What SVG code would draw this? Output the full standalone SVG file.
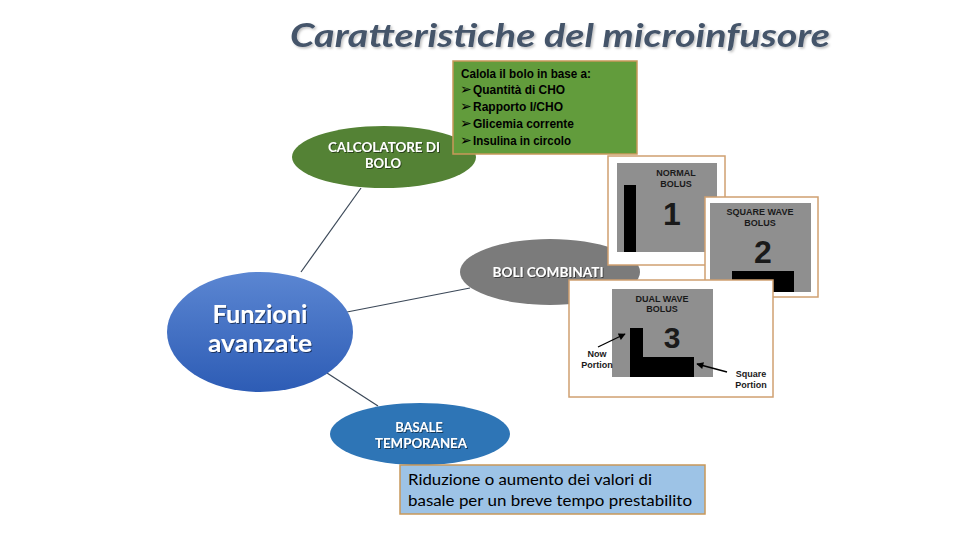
<svg xmlns="http://www.w3.org/2000/svg" width="960" height="540" viewBox="0 0 960 540">
<defs>
<linearGradient id="gBlue" x1="0" y1="0" x2="0" y2="1">
<stop offset="0" stop-color="#5b86d2"/>
<stop offset="1" stop-color="#2d5cb5"/>
</linearGradient>
<filter id="tsh" x="-10%" y="-30%" width="120%" height="160%">
<feDropShadow dx="1.5" dy="1.5" stdDeviation="0.8" flood-color="#000" flood-opacity="0.25"/>
</filter>
<filter id="wsh" x="-10%" y="-30%" width="120%" height="160%">
<feDropShadow dx="1" dy="1" stdDeviation="0.6" flood-color="#000" flood-opacity="0.5"/>
</filter>
<marker id="arr" viewBox="0 0 10 10" refX="9" refY="5" markerWidth="8" markerHeight="7" orient="auto" markerUnits="userSpaceOnUse">
<path d="M0,0 L10,5 L0,10 z" fill="#000"/>
</marker>
</defs>
<style>
.title{font-family:Lato,"Open Sans",sans-serif;font-weight:bold;font-style:italic;font-size:32px;fill:#44546a;filter:url(#tsh)}
.wt{font-family:Lato,"Open Sans",sans-serif;font-weight:bold;fill:#fff;text-anchor:middle;filter:url(#wsh)}
.gtx{font-family:"Liberation Sans",Arial,sans-serif;font-weight:bold;font-size:13px;fill:#000}
.bul{font-family:"DejaVu Sans",sans-serif;font-size:14px}
.btx{font-family:Lato,"Open Sans",sans-serif;font-size:15px;fill:#000}
.ar{font-family:"Liberation Sans",Arial,sans-serif;font-weight:bold;fill:#1a1a1a;text-anchor:middle}
.frame{fill:#fff;stroke:#d0a070;stroke-width:1.5}
.gray{fill:#8f8f8f}
.conn{stroke:#3b4858;stroke-width:1.2;fill:none}
</style>

<g id="title">
<text class="title" x="290" y="47" textLength="540" lengthAdjust="spacingAndGlyphs">Caratteristiche del microinfusore</text>
</g>

<g id="connectors">
<line class="conn" x1="361" y1="188" x2="301" y2="272"/>
<line class="conn" x1="347" y1="312" x2="470" y2="288"/>
<line class="conn" x1="327" y1="373" x2="378" y2="406"/>
</g>

<g id="calcolatore">
<ellipse cx="384" cy="157" rx="92" ry="31" fill="#548235"/>
<text class="wt" font-size="13" x="384" y="152" textLength="112" lengthAdjust="spacingAndGlyphs">CALCOLATORE DI</text>
<text class="wt" font-size="13" x="383" y="168">BOLO</text>
</g>

<g id="calcolo-box">
<rect x="453" y="61" width="184" height="93" fill="#629c3c" stroke="#c8985a" stroke-width="1.5"/>
<text class="gtx" x="461" y="78" textLength="130" lengthAdjust="spacingAndGlyphs">Calola il bolo in base a:</text>
<text class="gtx" x="460" y="94"><tspan class="bul">➢</tspan><tspan x="473" textLength="92" lengthAdjust="spacingAndGlyphs">Quantità di CHO</tspan></text>
<text class="gtx" x="460" y="111"><tspan class="bul">➢</tspan><tspan x="473" textLength="90" lengthAdjust="spacingAndGlyphs">Rapporto I/CHO</tspan></text>
<text class="gtx" x="460" y="128"><tspan class="bul">➢</tspan><tspan x="473" textLength="101" lengthAdjust="spacingAndGlyphs">Glicemia corrente</tspan></text>
<text class="gtx" x="460" y="145"><tspan class="bul">➢</tspan><tspan x="473" textLength="98" lengthAdjust="spacingAndGlyphs">Insulina in circolo</tspan></text>
</g>

<g id="boli-combinati">
<ellipse cx="550" cy="272" rx="90" ry="33" fill="#7b7b7b"/>
<text class="wt" font-size="13" x="548" y="277" textLength="111" lengthAdjust="spacingAndGlyphs">BOLI COMBINATI</text>
</g>

<g id="normal-bolus">
<rect class="frame" x="608" y="156" width="117" height="109"/>
<rect class="gray" x="617" y="163" width="100" height="89"/>
<rect x="624" y="185" width="12" height="67" fill="#000"/>
<text class="ar" font-size="9" x="676" y="176">NORMAL</text>
<text class="ar" font-size="9" x="676" y="187">BOLUS</text>
<text class="ar" font-size="32" x="672" y="225">1</text>
</g>

<g id="square-bolus">
<rect class="frame" x="705" y="197" width="113" height="100"/>
<rect class="gray" x="710" y="203" width="101" height="89"/>
<rect x="732" y="271" width="62" height="21" fill="#000"/>
<text class="ar" font-size="9" x="760" y="215">SQUARE WAVE</text>
<text class="ar" font-size="9" x="760" y="226">BOLUS</text>
<text class="ar" font-size="32" x="763" y="263">2</text>
</g>

<g id="dual-bolus">
<rect class="frame" x="569" y="280" width="204" height="117"/>
<rect class="gray" x="612" y="289" width="101" height="88"/>
<path d="M630,328 H643 V357 H694 V377 H630 Z" fill="#000"/>
<text class="ar" font-size="9" x="662" y="302">DUAL WAVE</text>
<text class="ar" font-size="9" x="662" y="312">BOLUS</text>
<text class="ar" font-size="30" x="672" y="348">3</text>
<text class="ar" font-size="9" x="597" y="357">Now</text>
<text class="ar" font-size="9" x="597" y="368">Portion</text>
<text class="ar" font-size="9" x="751" y="377">Square</text>
<text class="ar" font-size="9" x="751" y="388">Portion</text>
<line x1="598" y1="347" x2="625" y2="334" stroke="#000" stroke-width="1.3" marker-end="url(#arr)"/>
<line x1="727" y1="372" x2="697" y2="364" stroke="#000" stroke-width="1.3" marker-end="url(#arr)"/>
</g>

<g id="funzioni">
<ellipse cx="260" cy="332" rx="93" ry="60" fill="url(#gBlue)"/>
<text class="wt" font-size="25" x="260" y="323" textLength="95" lengthAdjust="spacingAndGlyphs">Funzioni</text>
<text class="wt" font-size="25" x="260" y="352" textLength="104" lengthAdjust="spacingAndGlyphs">avanzate</text>
</g>

<g id="basale">
<ellipse cx="420" cy="434" rx="90" ry="31" fill="#2e75b6"/>
<text class="wt" font-size="13" x="419" y="432">BASALE</text>
<text class="wt" font-size="13" x="421" y="448" textLength="92" lengthAdjust="spacingAndGlyphs">TEMPORANEA</text>
</g>

<g id="basale-box">
<rect x="400" y="465" width="305" height="49" fill="#9dc3e6" stroke="#c8985a" stroke-width="1.5"/>
<text class="btx" x="408" y="485" textLength="244" lengthAdjust="spacingAndGlyphs">Riduzione o aumento dei valori di</text>
<text class="btx" x="408" y="506" textLength="284" lengthAdjust="spacingAndGlyphs">basale per un breve tempo prestabilito</text>
</g>
</svg>
